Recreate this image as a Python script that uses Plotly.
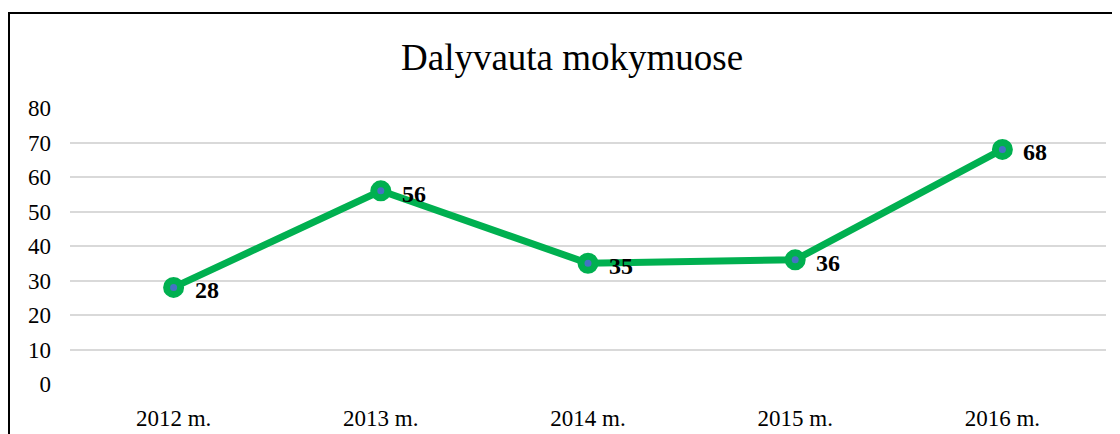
import plotly.graph_objects as go

categories = ["2012 m.", "2013 m.", "2014 m.", "2015 m.", "2016 m."]
values = [28, 56, 35, 36, 68]
title_text = "Dalyvauta mokymuose"
y_ticks = [0, 10, 20, 30, 40, 50, 60, 70, 80]

GREEN = "#00B050"
FONT = "Liberation Serif"

# page body has an 8px margin; layout below compensates for it
L, T = 62, 100
PW, PH = 1036, 276

fig = go.Figure()
fig.add_trace(go.Scatter(
    x=categories, y=values, mode="lines+markers",
    line=dict(color=GREEN, width=7),
    marker=dict(size=14, color="#4472C4", line=dict(color=GREEN, width=7)),
    hoverinfo="skip", showlegend=False,
))

for c, v in zip(categories, values):
    fig.add_annotation(x=c, y=v, text=f"<b>{v}</b>", showarrow=False,
                       xanchor="left", yanchor="middle", xshift=19, yshift=-3,
                       font=dict(family=FONT, size=24, color="black"))

fig.add_annotation(x=(564 - L) / PW, y=(T + PH - 49) / PH, xref="paper", yref="paper",
                   text=title_text, showarrow=False, xanchor="center", yanchor="middle",
                   font=dict(family=FONT, size=37, color="black"))

fig.add_shape(type="rect", xref="paper", yref="paper",
              x0=(1 - L) / PW, x1=1.3, y0=-0.6, y1=(T + PH - 5) / PH,
              line=dict(color="black", width=2), fillcolor="rgba(0,0,0,0)", layer="above")

fig.update_layout(
    width=1120, height=434,
    margin=dict(l=L, r=1120 - L - PW, t=T, b=434 - T - PH, autoexpand=False),
    paper_bgcolor="white", plot_bgcolor="white",
    font=dict(family=FONT, size=23, color="black"),
    xaxis=dict(range=[-0.5, 4.5], showgrid=False, zeroline=False, showline=False,
               ticks="", ticklabelstandoff=18, tickfont=dict(family=FONT, size=23, color="black")),
    yaxis=dict(range=[0, 80], tickvals=y_ticks, showgrid=True, gridcolor="#D9D9D9",
               gridwidth=1.5, zeroline=False, showline=False, ticks="",
               ticklabelstandoff=18, tickfont=dict(family=FONT, size=23, color="black")),
)

fig.write_html("out.html")
